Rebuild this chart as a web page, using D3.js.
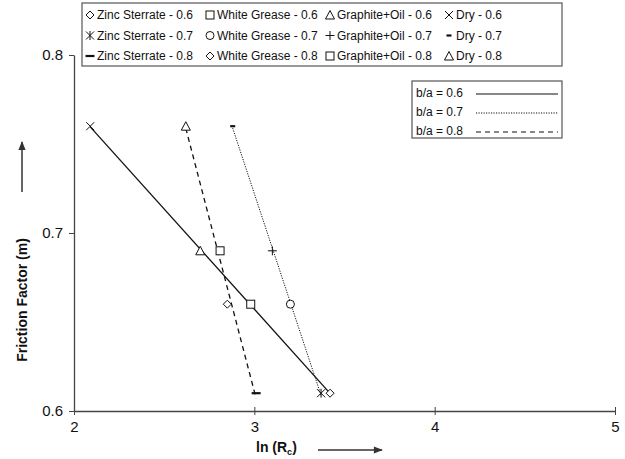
<!DOCTYPE html>
<html>
<head>
<meta charset="utf-8">
<script src="https://cdn.jsdelivr.net/npm/d3@7"></script>
<style>
  body { margin: 0; background: #fff; }
  svg { font-family: "Liberation Sans", Arial, sans-serif; }
</style>
</head>
<body>
<div id="chart-area"></div>
<script>
// data
const lubricants = ["Zinc Sterrate", "White Grease", "Graphite+Oil", "Dry"];
const ratios = [0.6, 0.7, 0.8];
const lnRc06 = [3.42, 2.98, 2.7, 2.09];
const m06 = [0.61, 0.66, 0.69, 0.76];
const lnRc07 = [3.37, 3.2, 3.1, 2.88];
const m07 = [0.61, 0.66, 0.69, 0.76];
const lnRc08 = [3.01, 2.85, 2.81, 2.62];
const m08 = [0.61, 0.66, 0.69, 0.76];
const symbols06 = ["diamond", "square", "triangle", "cross"];
const symbols07 = ["asterisk", "circle", "plus", "dash"];
const symbols08 = ["bar", "diamond", "square", "triangle"];
const xTicks = [2, 3, 4, 5];
const yTicks = [0.6, 0.7, 0.8];
const lineDash = ["none", "1.2,1.3", "5,4"];

const groups = [
  { ratio: ratios[0], x: lnRc06, y: m06, sym: symbols06 },
  { ratio: ratios[1], x: lnRc07, y: m07, sym: symbols07 },
  { ratio: ratios[2], x: lnRc08, y: m08, sym: symbols08 }
];

const width = 625, height = 459;
const svg = d3.select("#chart-area").append("svg")
  .attr("width", width)
  .attr("height", height);

const x = d3.scaleLinear().domain([2, 5]).range([74, 615]);
const y = d3.scaleLinear().domain([0.6, 0.8]).range([411, 55]);

// axes
const axisColor = "#444";
const xAxis = svg.append("g")
  .attr("transform", `translate(0,${y(0.6)})`)
  .call(d3.axisBottom(x).tickValues(xTicks).tickFormat(d3.format("d")).tickSize(4).tickSizeOuter(0));
xAxis.select(".domain").attr("stroke", axisColor).attr("stroke-width", 1.3);
xAxis.selectAll(".tick line").attr("y1", -4).attr("stroke", axisColor);
xAxis.selectAll(".tick text").attr("font-size", 15).attr("fill", "#111")
  .attr("font-family", "Liberation Sans, Arial").attr("dy", "0.9em");

const yAxis = svg.append("g")
  .attr("transform", `translate(${x(2)},0)`)
  .call(d3.axisLeft(y).tickValues(yTicks).tickFormat(d3.format(".1f")).tickSize(5).tickSizeOuter(0));
yAxis.select(".domain").attr("stroke", axisColor).attr("stroke-width", 1.3);
yAxis.selectAll(".tick line").attr("stroke", axisColor);
yAxis.selectAll(".tick text").attr("font-size", 15).attr("fill", "#111")
  .attr("font-family", "Liberation Sans, Arial").attr("dx", "-0.2em");

// marker drawing
function drawSymbol(g, type, cx, cy) {
  const s = g.append("g").attr("transform", `translate(${cx},${cy})`)
    .attr("fill", "none").attr("stroke", "#111").attr("stroke-width", 1);
  if (type === "diamond") {
    s.append("path").attr("d", "M0,-4L4,0L0,4L-4,0Z").attr("fill", "#fff");
  } else if (type === "square") {
    s.append("rect").attr("x", -4).attr("y", -4).attr("width", 8).attr("height", 8).attr("fill", "#fff");
  } else if (type === "triangle") {
    s.append("path").attr("d", "M0,-4.5L4.5,4L-4.5,4Z").attr("fill", "#fff");
  } else if (type === "circle") {
    s.append("circle").attr("r", 4).attr("fill", "#fff");
  } else if (type === "cross") {
    s.append("path").attr("d", "M-4,-4L4,4M4,-4L-4,4");
  } else if (type === "asterisk") {
    s.append("path").attr("d", "M-4,-4L4,4M4,-4L-4,4M0,-4.5L0,4.5");
  } else if (type === "plus") {
    s.append("path").attr("d", "M-4.5,0L4.5,0M0,-4.5L0,4.5");
  } else if (type === "dash") {
    s.append("path").attr("d", "M-2.5,0L2.5,0").attr("stroke-width", 2.2);
  } else if (type === "bar") {
    s.append("path").attr("d", "M-4.5,0L4.5,0").attr("stroke-width", 2.2);
  }
}

// trendlines (least squares per b/a)
const lineGen = d3.line().x(d => x(d[0])).y(d => y(d[1]));
groups.forEach((gp, gi) => {
  const n = gp.x.length;
  const mx = d3.mean(gp.x), my = d3.mean(gp.y);
  let sxy = 0, sxx = 0;
  for (let i = 0; i < n; i++) {
    sxy += (gp.x[i] - mx) * (gp.y[i] - my);
    sxx += (gp.x[i] - mx) * (gp.x[i] - mx);
  }
  const b = sxy / sxx, a = my - b * mx;
  const [x0, x1] = d3.extent(gp.x);
  svg.append("path")
    .attr("d", lineGen([[x0, a + b * x0], [x1, a + b * x1]]))
    .attr("fill", "none")
    .attr("stroke", "#111")
    .attr("stroke-width", gi === 1 ? 1 : 1.3)
    .attr("stroke-dasharray", lineDash[gi]);
});

// points
groups.forEach(gp => {
  gp.x.forEach((v, i) => drawSymbol(svg, gp.sym[i], x(v), y(gp.y[i])));
});

// legend of series
const leg = svg.append("g");
leg.append("rect").attr("x", 82).attr("y", 3).attr("width", 480).attr("height", 63)
  .attr("fill", "#fff").attr("stroke", "#555").attr("stroke-width", 1.2);
const colX = [82, 202, 322, 441];
const rowY = [15, 35.5, 56];
groups.forEach((gp, r) => {
  lubricants.forEach((name, c) => {
    drawSymbol(leg, gp.sym[c], colX[c] + 8, rowY[r]);
    leg.append("text")
      .attr("x", colX[c] + 15)
      .attr("y", rowY[r])
      .attr("dy", "0.35em")
      .attr("font-size", 12)
      .attr("fill", "#111")
      .text(`${name} - ${gp.ratio}`);
  });
});

// legend of b/a lines
const leg2 = svg.append("g");
leg2.append("rect").attr("x", 412).attr("y", 81).attr("width", 150).attr("height", 57)
  .attr("fill", "#fff").attr("stroke", "#555").attr("stroke-width", 1.2);
ratios.forEach((r, i) => {
  const ly = 93 + i * 19;
  leg2.append("text").attr("x", 416).attr("y", ly).attr("dy", "0.35em")
    .attr("font-size", 12).attr("fill", "#111").text(`b/a = ${r}`);
  leg2.append("line").attr("x1", 476).attr("x2", 558).attr("y1", ly + 1).attr("y2", ly + 1)
    .attr("stroke", "#111").attr("stroke-width", i === 1 ? 1 : 1.2)
    .attr("stroke-dasharray", lineDash[i]);
});

// axis titles
const xt = svg.append("text").attr("x", 256).attr("y", 452)
  .attr("font-size", 14).attr("font-weight", "bold").attr("fill", "#111");
xt.append("tspan").text("ln (R");
xt.append("tspan").attr("font-size", 9).attr("dy", 3).text("c");
xt.append("tspan").attr("dy", -3).text(")");

svg.append("defs").append("marker")
  .attr("id", "arrow").attr("viewBox", "0 0 10 10")
  .attr("refX", 9).attr("refY", 5)
  .attr("markerWidth", 10).attr("markerHeight", 9).attr("markerUnits", "userSpaceOnUse")
  .attr("orient", "auto")
  .append("path").attr("d", "M0,1L10,5L0,9Z").attr("fill", "#333");

svg.append("line").attr("x1", 318).attr("x2", 382).attr("y1", 450).attr("y2", 450)
  .attr("stroke", "#333").attr("stroke-width", 1.5).attr("marker-end", "url(#arrow)");

svg.append("text")
  .attr("transform", "translate(27,300) rotate(-90)")
  .attr("text-anchor", "middle")
  .attr("font-size", 14).attr("font-weight", "bold").attr("fill", "#111")
  .text("Friction Factor (m)");

svg.append("line").attr("x1", 22).attr("x2", 22).attr("y1", 192).attr("y2", 142)
  .attr("stroke", "#333").attr("stroke-width", 1.5).attr("marker-end", "url(#arrow)");
</script>
</body>
</html>
